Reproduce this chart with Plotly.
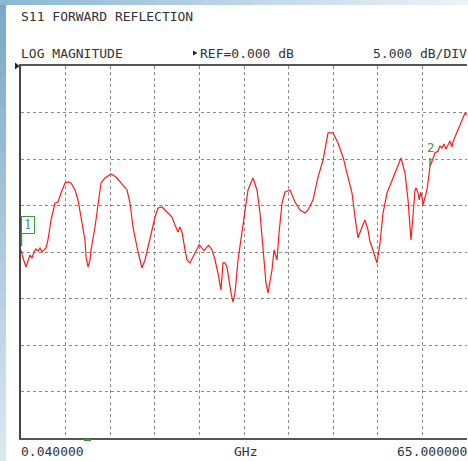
import plotly.graph_objects as go

# Trace data (GHz, dB)
freq_ghz = [0.04, 0.33, 0.77, 1.06, 1.35, 1.64, 1.93, 2.22, 2.52, 2.81, 3.10, 3.39, 3.68, 3.97,
            4.41, 4.99, 5.43, 5.87, 6.45, 6.89, 7.32, 7.91, 8.34, 8.78, 9.36, 9.51, 9.80, 10.09,
            10.24, 10.82, 11.26, 11.69, 12.27, 13.15, 13.88, 14.61, 15.48, 15.92, 16.35, 16.93,
            17.37, 17.66, 18.10, 18.54, 19.12, 19.56, 19.99, 20.58, 21.30, 22.03, 22.47, 22.91,
            23.20, 23.49, 23.93, 24.22, 24.65, 25.09, 25.67, 26.00, 26.40, 26.70, 27.13, 27.40,
            27.86, 28.30, 28.73, 29.17,
            29.46, 29.75, 30.04, 30.34, 30.63, 30.92, 31.21, 31.65, 32.23, 32.67, 33.10, 33.83,
            34.41, 34.85, 35.29, 35.72, 36.02, 36.60, 36.89, 37.33, 37.62, 38.06, 38.49, 39.22,
            39.95, 40.68, 41.40, 41.84, 42.57, 43.30, 44.03, 44.76, 45.48, 46.21, 46.94, 47.67,
            48.25, 48.69, 49.13, 49.71, 50.14, 50.58, 50.87, 51.16, 51.60, 51.89, 52.33, 52.77,
            53.35, 54.08, 54.80, 55.39, 55.97, 56.41, 56.70, 56.84, 57.14, 57.43, 57.60, 57.86,
            58.05, 58.25, 58.45, 58.59,
            59.17, 59.61, 60.34, 60.78, 61.07, 61.36, 61.65, 61.94, 62.23, 62.52, 62.81, 62.96,
            63.25, 63.69, 64.27, 64.71, 65.00]
s11_db = [-19.78, -20.65, -21.61, -20.86, -20.32, -20.65, -20.00, -19.68, -19.89, -19.57, -20.00,
          -19.78, -19.57, -18.71, -16.56, -14.73, -14.62, -13.66, -12.58, -12.47, -12.58, -13.33,
          -14.41, -16.24, -18.71, -20.54, -21.61, -20.86, -19.78, -17.31, -14.73, -12.58, -12.04,
          -11.61, -11.94, -12.58, -13.33, -14.73, -17.31, -19.46, -20.86, -21.72, -20.86, -19.46,
          -17.31, -16.24, -15.27, -15.16, -15.70, -16.24, -17.10, -17.85,
          -17.30, -17.85, -19.78, -20.86,
          -21.18, -20.54, -19.57, -19.20, -19.57, -19.85, -19.46, -19.30,
          -19.78, -20.86, -22.26, -24.09, -21.18, -21.18,
          -21.61, -23.33, -24.41, -25.38, -24.41, -20.86, -17.96, -15.48, -13.33, -12.04, -13.33,
          -15.81, -19.78, -23.33, -24.41, -21.94, -19.78, -20.86, -17.96, -14.73, -13.55, -13.33,
          -14.62, -15.48, -15.81, -15.48, -14.41, -11.94, -10.11, -7.20, -7.20, -8.28, -9.78,
          -11.94, -13.66, -16.24, -18.49, -17.31, -16.56, -17.63, -18.90, -19.46, -20.54, -21.18,
          -19.03, -15.81, -13.66, -12.26, -10.97, -9.89, -11.51, -14.41, -17.31, -18.71, -16.02,
          -13.33, -13.10, -13.66, -14.40, -13.60, -14.09, -14.95,
          -13.33, -10.86, -9.35, -9.14, -8.60, -8.82, -8.39, -8.92, -8.49,
          -8.06, -8.71, -8.17, -7.63, -6.88, -5.81, -5.05, -5.27]

x_start, x_stop = 0.04, 65.0
ref_db, db_per_div = 0.0, 5.0
n_xdiv, n_ydiv = 10, 8

L, T, PW, PH = 21, 66, 446, 372
def px(xp):
    return (xp - L) / PW
def py(yp):
    return (T + PH - yp) / PH

fig = go.Figure()
fig.add_trace(go.Scatter(x=freq_ghz, y=s11_db, mode="lines",
                         line=dict(color="#ff1a1a", width=1.2), hoverinfo="skip"))

dx = (x_stop - x_start) / n_xdiv
grid = dict(showgrid=True, gridcolor="#8a8a8a", gridwidth=1, griddash="dot",
            showticklabels=False, ticks="", zeroline=False)
fig.update_xaxes(range=[x_start, x_stop], tick0=x_start, dtick=dx,
                 showline=True, linecolor="#555555", linewidth=1.5, mirror=True, **grid)
fig.update_yaxes(range=[ref_db - db_per_div * n_ydiv, ref_db], tick0=0, dtick=db_per_div,
                 showline=True, linecolor="#444444", linewidth=1.5, **grid)

shapes = []
# background gradient strips
N = 30
def mix(c1, c2, t):
    return "rgb(%d,%d,%d)" % tuple(int(a + (b - a) * t) for a, b in zip(c1, c2))
top_c, bot_c = (122, 168, 200), (218, 232, 241)
for i in range(N):
    y0 = 0 + i * 461 / N
    y1 = y0 + 461 / N + 1
    shapes.append(dict(type="rect", xref="paper", yref="paper", x0=px(0), x1=px(6),
                       y0=py(y1), y1=py(y0), line=dict(width=0),
                       fillcolor=mix(top_c, bot_c, i / (N - 1)), layer="below"))
l_c, r_c = (140, 184, 212), (236, 243, 247)
for i in range(N):
    x0 = i * 468 / N
    x1 = x0 + 468 / N + 1
    shapes.append(dict(type="rect", xref="paper", yref="paper", x0=px(x0), x1=px(x1),
                       y0=py(5), y1=py(0), line=dict(width=0),
                       fillcolor=mix(l_c, r_c, i / (N - 1)), layer="below"))
# reference level arrow
shapes.append(dict(type="path", xref="paper", yref="paper",
                   path="M %f,%f L %f,%f L %f,%f Z" % (px(15), py(62.5), px(19.5), py(66), px(15), py(69.5)),
                   fillcolor="#222222", line=dict(width=0)))
# REF triangle in header
shapes.append(dict(type="path", xref="paper", yref="paper",
                   path="M %f,%f L %f,%f L %f,%f Z" % (px(193), py(50.5), px(197.5), py(53), px(193), py(55.5)),
                   fillcolor="#222222", line=dict(width=0)))
# marker 1 leader
shapes.append(dict(type="line", xref="paper", yref="paper", x0=px(21.5), x1=px(21.5),
                   y0=py(232), y1=py(246), line=dict(color="#3c9a3c", width=1.5), layer="above"))
# marker 2 tick
shapes.append(dict(type="line", xref="x", yref="y", x0=59.61, x1=59.61, y0=-9.89, y1=-10.8,
                   line=dict(color="#3c9a3c", width=1.5), layer="above"))
# start marker on bottom edge
shapes.append(dict(type="rect", xref="paper", yref="paper", x0=px(84), x1=px(91),
                   y0=py(441), y1=py(439), fillcolor="#2fa02f", line=dict(width=0)))

font = dict(family="DejaVu Sans Mono", size=13, color="#333333")
ann = []
def text(t, xp, yp, anchor="left"):
    ann.append(dict(text=t, xref="paper", yref="paper", x=px(xp), y=py(yp), xanchor=anchor,
                    yanchor="middle", showarrow=False, font=font))
text("S11 FORWARD REFLECTION", 19, 17)
text("LOG MAGNITUDE", 19, 53)
text("REF=0.000 dB", 198, 53)
text("5.000 dB/DIV", 469, 53, "right")
text("0.040000", 19, 451)
text("GHz", 232, 451)
text("65.000000", 469, 451, "right")
ann.append(dict(text="1", xref="paper", yref="paper", x=px(21), y=py(225), xanchor="left",
                yanchor="middle", showarrow=False, bordercolor="#3c9a3c", borderwidth=1,
                borderpad=1, bgcolor="white", width=10,
                font=dict(family="DejaVu Serif", size=12, color="#3c9a3c")))
ann.append(dict(text="2", xref="paper", yref="paper", x=px(431), y=py(148), xanchor="center",
                yanchor="middle", showarrow=False,
                font=dict(family="DejaVu Sans", size=12, color="#3c9a3c")))

fig.update_layout(width=468, height=461, margin=dict(l=L, r=468 - L - PW, t=T, b=461 - T - PH),
                  paper_bgcolor="white", plot_bgcolor="white", showlegend=False,
                  shapes=shapes, annotations=ann)
fig.write_html("out.html", config={"displayModeBar": False},
               post_script="document.body.style.margin='0';document.body.style.overflow='hidden';")
